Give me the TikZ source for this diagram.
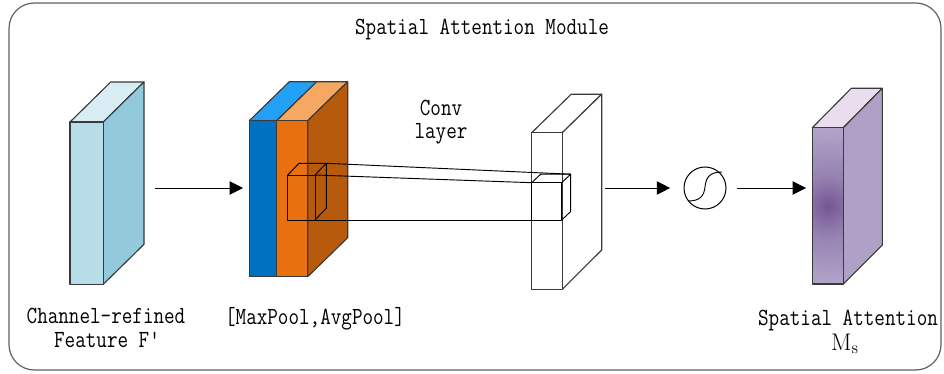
\documentclass[tikz,border=0pt]{standalone}
\usetikzlibrary{arrows.meta}
\definecolor{cyanF}{HTML}{B7DEE8}
\definecolor{cyanS}{HTML}{92CADB}
\definecolor{cyanT}{HTML}{D8EDF3}
\definecolor{blueF}{HTML}{0070C0}
\definecolor{blueT}{HTML}{22A0F6}
\definecolor{oranF}{HTML}{E8700E}
\definecolor{oranT}{HTML}{F4A862}
\definecolor{oranS}{HTML}{B85A0C}
\definecolor{purS}{HTML}{AFA0C6}
\definecolor{purT}{HTML}{EADDEE}
\definecolor{purD}{HTML}{745694}
\definecolor{purM}{HTML}{9581B0}
\definecolor{purN}{HTML}{AE9FC6}
\definecolor{purL}{HTML}{C6B9D7}
\definecolor{edge}{HTML}{3A3A3A}
\pgfdeclareradialshading{purpleglow}{\pgfpoint{0bp}{0bp}}{%
  color(0bp)=(purD); color(9bp)=(purM); color(22bp)=(purN); color(38bp)=(purL); color(50bp)=(purL)}
\newcommand\tallt[1]{\scalebox{1}[1.2]{#1}}
\tikzset{
  face/.style={draw=edge, line width=0.85pt, line join=round},
  thin/.style={draw=black, line width=0.7pt, line join=round},
  arr/.style={draw=black, line width=0.75pt, -{Triangle[length=10pt,width=10pt]}},
  lbl/.style={font=\fontsize{15.4}{19}\selectfont\ttfamily, anchor=base, inner sep=0pt}
}
\begin{document}
\begin{tikzpicture}[x=0.75pt,y=-0.75pt]
\useasboundingbox (0,0) rectangle (944,374);
% outer frame
\draw[draw=edge!80, line width=0.9pt, rounded corners=19pt] (9,3) rectangle (941,370);
\node[lbl] (title) at (482,35) {\tallt{Spatial Attention Module}};

% input feature cuboid
\fill[cyanT, face] (70,122) -- (110.7,82) -- (144,82) -- (103.3,122) -- cycle;
\fill[cyanS, face] (103.3,122) -- (144,82) -- (144,244.3) -- (103.3,284.3) -- cycle;
\fill[cyanF, face] (70,122) rectangle (103.3,284.3);
\node[lbl] (inlbl) at (106,323) {\tallt{Channel-refined}};
\node[lbl] (inlblb) at (107,347.5) {\tallt{Feature F\textquotesingle}};

% pooled maps cuboid
\fill[blueT, face] (249.3,120.7) -- (289.3,81.7) -- (316.7,81.7) -- (276.7,120.7) -- cycle;
\fill[oranT, face] (276.7,120.7) -- (316.7,81.7) -- (347.7,81.7) -- (307.7,120.7) -- cycle;
\fill[oranS, face] (307.7,120.7) -- (347.7,81.7) -- (347.7,237.7) -- (307.7,276.7) -- cycle;
\fill[blueF, face] (249.3,120.7) rectangle (276.7,276.7);
\fill[oranF, face] (276.7,120.7) rectangle (307.7,276.7);
\node[lbl] (poollbl) at (315,324.5) {\tallt{[MaxPool,AvgPool]}};

% conv output map
\fill[white, face] (531.7,132.7) -- (571.2,94.2) -- (601.7,94.2) -- (562.3,132.7) -- cycle;
\fill[white, face] (562.3,132.7) -- (601.7,94.2) -- (601.7,250) -- (562.3,289.3) -- cycle;
\fill[white, face] (531.7,132.7) rectangle (562.3,289.3);

% kernel window on the pooled maps
\coordinate (kA) at (287.7,175);   % front top left
\coordinate (kB) at (315,175);     % front top right
\coordinate (kC) at (315,220);     % front bottom right
\coordinate (kD) at (287.7,220);   % front bottom left
\coordinate (kE) at (299,163.3);   % back top left
\coordinate (kF) at (326.3,163.3); % back top right
\coordinate (kG) at (326.3,208.3); % back bottom right
\draw[thin] (kA) rectangle (kC);
\draw[thin] (kA) -- (kE) -- (kF) -- (kB);
\draw[thin] (kF) -- (kG) -- (kC);

% its image on the output map
\coordinate (oA) at (531.7,182.7);
\coordinate (oB) at (561.7,182.7);
\coordinate (oC) at (561.7,220);
\coordinate (oD) at (531.7,220);
\coordinate (oE) at (540.7,174.2);
\coordinate (oF) at (570.7,174.2);
\coordinate (oG) at (570.7,211.5);
\draw[thin] (oA) rectangle (oC);
\draw[thin] (oA) -- (oE) -- (oF) -- (oB);
\draw[thin] (oF) -- (oG) -- (oC);

% projection lines
\draw[thin] (kF) -- (oF);
\draw[thin] (kB) -- (oA);
\draw[thin] (kD) -- (oC);
\node[lbl] (convlbl) at (441,115.5) {\tallt{Conv}};
\node[lbl] (convlblb) at (441,138) {\tallt{layer}};

% sigmoid
\node[circle, draw=black, line width=0.75pt, minimum size=31.5pt, inner sep=0pt] (sig) at (705,188) {};
\draw[black, line width=0.7pt] (688,201) .. controls (700,201) and (704,196) .. (705,187)
  .. controls (706,177) and (710,172) .. (722,172);

% output attention map
\fill[purT, face] (812.3,127.7) -- (851.3,88.3) -- (882.3,88.3) -- (843.3,127.7) -- cycle;
\fill[purS, face] (843.3,127.7) -- (882.3,88.3) -- (882.3,245) -- (843.3,284) -- cycle;
\begin{scope}
  \clip (812.3,127.7) rectangle (843.3,284);
  \fill[purL] (812.3,127.7) rectangle (843.3,284);
  \shade[shading=purpleglow] (828,206) circle[radius=80];
\end{scope}
\draw[face] (812.3,127.7) rectangle (843.3,284);
\node[lbl] (outlbl) at (848,325) {\tallt{Spatial Attention}};
\node[lbl, font=\fontsize{18}{20}\selectfont\rmfamily] (mslbl) at (845,350) {M\textsubscript{s}};

% arrows
\coordinate (a1s) at (155,188);
\coordinate (a1e) at (243,188);
\coordinate (a2s) at (605,188);
\coordinate (a3e) at (806,188);
\draw[arr] (a1s) -- (a1e);
\draw[arr, shorten >=10pt] (a2s) -- (sig.west);
\draw[arr, shorten <=7.5pt] (sig.east) -- (a3e);
\end{tikzpicture}
\end{document}
